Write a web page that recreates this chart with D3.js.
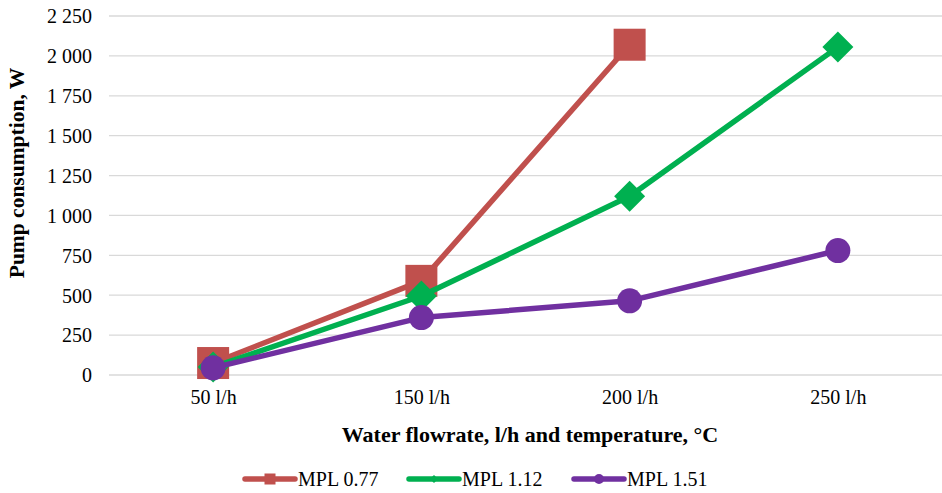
<!DOCTYPE html>
<html>
<head>
<meta charset="utf-8">
<script src="https://cdn.jsdelivr.net/npm/d3@7"></script>
<style>
  body { margin: 0; background: #fff; }
  text { font-family: "Liberation Serif", "Times New Roman", serif; fill: #000; }
</style>
</head>
<body>
<div id="chart"></div>
<script>
const categories = ["50 l/h", "150 l/h", "200 l/h", "250 l/h"];
const mpl077 = [75, 590, 2070, null];
const mpl112 = [50, 495, 1120, 2055];
const mpl151 = [45, 360, 465, 780];
const yTicks = [0, 250, 500, 750, 1000, 1250, 1500, 1750, 2000, 2250];

const series = [
  {name: "MPL 0.77", values: mpl077, color: "#C0504D", marker: "square"},
  {name: "MPL 1.12", values: mpl112, color: "#00B050", marker: "diamond"},
  {name: "MPL 1.51", values: mpl151, color: "#7030A0", marker: "circle"}
];

const W = 942, H = 493;
const margin = {top: 16, right: 0, bottom: 118, left: 109};
const width = W - margin.left - margin.right,
      height = H - margin.top - margin.bottom;
const serif = "'Liberation Serif', 'Times New Roman', serif";

const svg = d3.select("#chart")
  .append("svg")
    .attr("width", W)
    .attr("height", H)
  .append("g")
    .attr("transform", `translate(${margin.left},${margin.top})`);

const x = d3.scalePoint()
  .domain(categories)
  .range([0, width])
  .padding(0.5);

const y = d3.scaleLinear()
  .domain([0, 2250])
  .range([height, 0]);

const fmt = v => d3.format(",")(v).replace(/,/g, " ");

// gridlines
svg.append("g")
  .selectAll("line")
  .data(yTicks)
  .join("line")
    .attr("x1", 0).attr("x2", width)
    .attr("y1", d => y(d)).attr("y2", d => y(d))
    .attr("stroke", "#d9d9d9")
    .attr("stroke-width", 1.3);

// y axis labels
const yAxis = svg.append("g")
  .call(d3.axisLeft(y).tickValues(yTicks).tickFormat(fmt).tickSize(0).tickPadding(17));
yAxis.select(".domain").remove();
yAxis.attr("font-family", serif).attr("font-size", 20);
yAxis.selectAll("text").attr("dy", "0.34em");

// x axis labels
const xAxis = svg.append("g")
  .attr("transform", `translate(0,${height})`)
  .call(d3.axisBottom(x).tickSize(0).tickPadding(15));
xAxis.select(".domain").remove();
xAxis.attr("font-family", serif).attr("font-size", 20);

// axis titles
svg.append("text")
  .attr("x", 530 - margin.left)
  .attr("y", height + 67)
  .attr("text-anchor", "middle")
  .attr("font-family", serif)
  .attr("font-size", 22)
  .attr("font-weight", "bold")
  .text("Water flowrate, l/h and temperature, °C");

svg.append("text")
  .attr("transform", `translate(${-85},${173 - margin.top}) rotate(-90)`)
  .attr("text-anchor", "middle")
  .attr("font-family", serif)
  .attr("font-size", 21.5)
  .attr("font-weight", "bold")
  .text("Pump consumption, W");

function drawMarker(g, type, cx, cy, s, color) {
  if (type === "square") {
    g.append("rect").attr("x", cx - s / 2).attr("y", cy - s / 2)
      .attr("width", s).attr("height", s).attr("fill", color);
  } else if (type === "diamond") {
    const r = s * 0.5;
    g.append("path")
      .attr("d", `M${cx},${cy - r}L${cx + r},${cy}L${cx},${cy + r}L${cx - r},${cy}Z`)
      .attr("fill", color);
  } else {
    g.append("circle").attr("cx", cx).attr("cy", cy).attr("r", s / 2).attr("fill", color);
  }
}

const markerSize = {square: 32, diamond: 31, circle: 25};

const line = d3.line()
  .defined(d => d.v != null)
  .x(d => x(d.c))
  .y(d => y(d.v));

series.forEach(s => {
  const pts = categories.map((c, i) => ({c, v: s.values[i]}));
  const g = svg.append("g");
  g.append("path")
    .datum(pts)
    .attr("d", line)
    .attr("fill", "none")
    .attr("stroke", s.color)
    .attr("stroke-width", 5.5)
    .attr("stroke-linejoin", "round");
  pts.filter(d => d.v != null).forEach(d =>
    drawMarker(g, s.marker, x(d.c), y(d.v), markerSize[s.marker], s.color));
});

// legend
const legend = svg.append("g")
  .attr("transform", `translate(${243 - margin.left},${479 - margin.top})`);
const legendX = [0, 164, 329];
const legendMarker = {square: 11, diamond: 8, circle: 10};
series.forEach((s, i) => {
  const g = legend.append("g").attr("transform", `translate(${legendX[i]},0)`);
  g.append("line")
    .attr("x1", 2).attr("x2", 52).attr("y1", 0).attr("y2", 0)
    .attr("stroke", s.color).attr("stroke-width", 5.5).attr("stroke-linecap", "round");
  drawMarker(g, s.marker, 27, 0, legendMarker[s.marker], s.color);
  g.append("text")
    .attr("x", 55).attr("y", 7)
    .attr("font-family", serif)
    .attr("font-size", 20)
    .text(s.name);
});
</script>
</body>
</html>
